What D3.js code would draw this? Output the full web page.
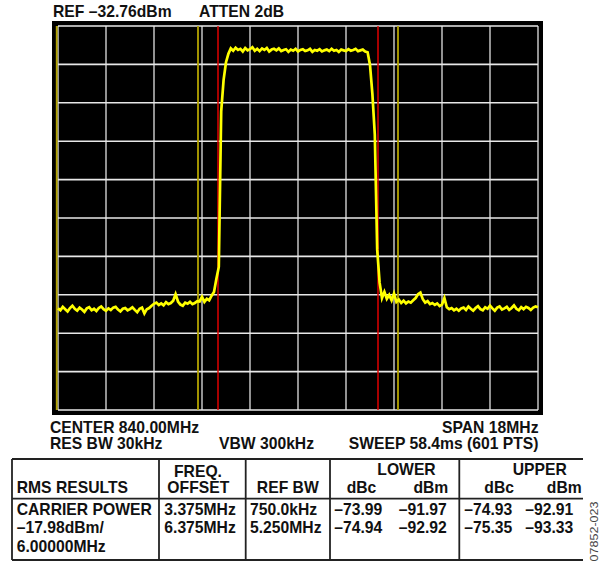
<!DOCTYPE html>
<html><head><meta charset="utf-8">
<script src="https://cdn.jsdelivr.net/npm/d3@7"></script>
<style>
html,body{margin:0;padding:0;background:#fff;}
svg text{font-family:"Liberation Sans",Arial,Helvetica,sans-serif;font-weight:bold;fill:#111;}
</style></head>
<body><svg id="c" width="605" height="577"></svg>
<script>
// ---- data ----
const refLevelDbm = -32.76;
const dbPerDiv = 10;
const centerMHz = 840.0;
const spanMHz = 18;
const sweepStartMHz = 831.0;
const sweepStepMHz = 0.09;

const lowerFloorDbm = [
 -106.3,-106.8,-105.9,-106.5,-107.1,-106.2,-105.6,-106.4,-106.9,-106.1,
 -106.6,-107.2,-106.3,-106.0,-106.8,-106.4,-107.0,-106.2,-105.8,-106.5,
 -106.9,-106.3,-106.7,-106.1,-105.9,-106.6,-107.1,-106.4,-106.2,-106.8,
 -106.5,-106.0,-106.7,-107.3,-106.4,-106.1,-107.6,-106.5,-106.2,
 -105.6,-105.1,-104.8,-105.4,-105.0,-105.5,-104.7,-105.2,-104.9,-104.3,
 -102.6,-104.5,-105.3,-105.6,-104.8,-105.1,-104.6,-105.2,-104.9,-104.4,
 -104.5,-103.3,-104.6,-103.8,-104.2,-103.0,-102.0,-98.6];
const lowerEdgeDbm = [-95.5,-55.0,-46.8,-42.2,-40.0];
const carrierDbm = [
 -38.6,-39.2,-38.4,-39.0,-38.7,-39.4,-38.5,-39.1,-38.8,-38.3,
 -39.2,-38.7,-39.3,-38.6,-39.0,-38.5,-39.4,-38.9,-38.7,-39.1,
 -38.6,-39.3,-39.0,-38.8,-39.5,-38.9,-39.2,-38.7,-39.4,-39.0,
 -38.8,-39.3,-39.1,-38.7,-39.5,-39.0,-39.2,-38.8,-39.4,-39.1,
 -38.9,-39.3,-38.7,-39.2,-39.0,-39.5,-38.9,-39.1,-39.3,-38.8,
 -39.2,-39.0,-38.7,-39.3,-39.1,-38.9,-39.4];
const upperEdgeDbm = [-39.6,-42.9,-50.5,-61.0,-91.0,-99.6,-103.6];
const upperFloorDbm = [
 -102.0,-103.8,-102.8,-104.2,-102.4,-104.6,-104.0,-104.9,-104.3,-105.0,
 -104.5,-104.8,-104.2,-103.6,-102.6,-102.2,-103.9,-104.8,-104.4,-105.2,
 -104.9,-105.4,-105.0,-105.7,-105.3,
 -103.6,-106.0,-106.5,-106.2,-106.8,-106.4,-106.9,-106.3,-106.1,-106.7,
 -105.8,-106.4,-106.9,-106.2,-105.7,-106.5,-106.8,-106.0,-106.4,-105.6,
 -106.3,-106.9,-106.1,-105.8,-106.6,-106.3,-105.9,-106.7,-106.2,-105.5,
 -106.4,-106.8,-106.0,-106.5,-105.9,-106.2,-106.7,-106.1,-105.8,-106.0];

const channelEdgesMHz = [837.0, 843.0];              // red lines
const adjacentEdgesMHz = [831.0, 836.25, 843.75, 849.0]; // olive lines

const headerTexts = ["REF –32.76dBm", "ATTEN 2dB"];
const footerTexts = ["CENTER 840.00MHz", "SPAN 18MHz", "RES BW 30kHz", "VBW 300kHz", "SWEEP 58.4ms (601 PTS)"];

const carrierLines = ["CARRIER POWER", "–17.98dBm/", "6.00000MHz"];
const freqOffsets = ["3.375MHz", "6.375MHz"];
const refBws = ["750.0kHz", "5.250MHz"];
const lowerDbc = [-73.99, -74.94];
const lowerDbmVals = [-91.97, -92.92];
const upperDbc = [-74.93, -75.35];
const upperDbmVals = [-92.91, -93.33];
const figureId = "07852-023";

// ---- drawing ----
const svg = d3.select("#c");
const levels = [].concat(lowerFloorDbm, lowerEdgeDbm, carrierDbm, upperEdgeDbm, upperFloorDbm);
const trace = levels.map((v,i)=>({f: sweepStartMHz + i*sweepStepMHz, v}));

const x = d3.scaleLinear().domain([centerMHz-spanMHz/2, centerMHz+spanMHz/2]).range([58,538]);
const y = d3.scaleLinear().domain([refLevelDbm-10*dbPerDiv, refLevelDbm]).range([410,26]);

svg.append("rect").attr("x",52).attr("y",21).attr("width",491).attr("height",394).attr("fill","#000");

const g = svg.append("g");
const xGrid = d3.range(11).map(k=>x.domain()[0]+k*spanMHz/10);
const yGrid = d3.range(11).map(k=>refLevelDbm-k*dbPerDiv);

g.selectAll(".vg").data(xGrid).join("line")
 .attr("x1",d=>x(d)).attr("x2",d=>x(d)).attr("y1",y.range()[1]).attr("y2",y.range()[0])
 .attr("stroke","#b8b8b8").attr("stroke-width",1.6);
g.selectAll(".hg").data(yGrid).join("line")
 .attr("y1",d=>y(d)).attr("y2",d=>y(d)).attr("x1",x.range()[0]).attr("x2",x.range()[1])
 .attr("stroke","#e8e8e8").attr("stroke-width",1.6);

g.selectAll(".ol").data(adjacentEdgesMHz.slice(0,3)).join("line")
 .attr("x1",(d,i)=>x(d)-(i==0?1.3:0)).attr("x2",(d,i)=>x(d)-(i==0?1.3:0))
 .attr("y1",y.range()[1]).attr("y2",y.range()[0])
 .attr("stroke","#b4a400").attr("stroke-width",1.8);
g.selectAll(".rl").data(channelEdgesMHz).join("line")
 .attr("x1",d=>x(d)).attr("x2",d=>x(d)).attr("y1",y.range()[1]).attr("y2",y.range()[0])
 .attr("stroke","#e00000").attr("stroke-width",1.5);

g.append("path").datum(trace)
 .attr("d", d3.line().x(d=>x(d.f)).y(d=>y(d.v)))
 .attr("fill","none").attr("stroke","#ffff00").attr("stroke-width",2.7).attr("stroke-linejoin","miter");

// header text
const fs = "15.7px";
svg.append("text").attr("x",53).attr("y",16.5).style("font-size",fs).text(headerTexts[0]);
svg.append("text").attr("x",199).attr("y",16.5).style("font-size",fs).text(headerTexts[1]);

// footer text
svg.append("text").attr("x",50).attr("y",433).style("font-size",fs).text(footerTexts[0]);
svg.append("text").attr("x",538.5).attr("y",433).attr("text-anchor","end").style("font-size",fs).text(footerTexts[1]);
svg.append("text").attr("x",50).attr("y",448.5).style("font-size",fs).text(footerTexts[2]);
svg.append("text").attr("x",219).attr("y",448.5).style("font-size",fs).text(footerTexts[3]);
svg.append("text").attr("x",538.5).attr("y",448.5).attr("text-anchor","end").style("font-size",fs).text(footerTexts[4]);

// table
const tl = svg.append("g").attr("stroke","#222").attr("stroke-width",1.8);
[459,498.7,560].forEach(yy=>tl.append("line").attr("x1",12).attr("x2",583).attr("y1",yy).attr("y2",yy));
[12,159,245.7,330,459.3].forEach(xx=>tl.append("line").attr("x1",xx).attr("x2",xx).attr("y1",459).attr("y2",560));

function t(xx,yy,s,anchor){svg.append("text").attr("x",xx).attr("y",yy).attr("text-anchor",anchor||"start").style("font-size",fs).text(s);}
const fmt = v => (v<0?"–":"")+Math.abs(v).toFixed(2);
t(198,476.5,"FREQ.","middle");
t(198.3,493.3,"OFFSET","middle");
t(16.7,493.3,"RMS RESULTS");
t(287.8,493.3,"REF BW","middle");
t(377.3,475,"LOWER");
t(346.7,493.3,"dBc");
t(448.3,493.3,"dBm","end");
t(512.7,475,"UPPER");
t(484.3,493.3,"dBc");
t(581.7,493.3,"dBm","end");
const rowY = [515,533.3,551.7];
carrierLines.forEach((s,i)=>t(16.7,rowY[i],s));
freqOffsets.forEach((s,i)=>t(164.3,rowY[i],s));
refBws.forEach((s,i)=>t(250,rowY[i],s));
lowerDbc.forEach((v,i)=>t(334.3,rowY[i],fmt(v)));
lowerDbmVals.forEach((v,i)=>t(446.7,rowY[i],fmt(v),"end"));
upperDbc.forEach((v,i)=>t(464.3,rowY[i],fmt(v)));
upperDbmVals.forEach((v,i)=>t(573.3,rowY[i],fmt(v),"end"));

svg.append("text").attr("transform","translate(598,561.5) rotate(-90)")
 .style("font-size","11.5px").style("font-weight","normal").style("fill","#444")
 .attr("textLength",60).attr("lengthAdjust","spacingAndGlyphs").text(figureId);
</script></body></html>
